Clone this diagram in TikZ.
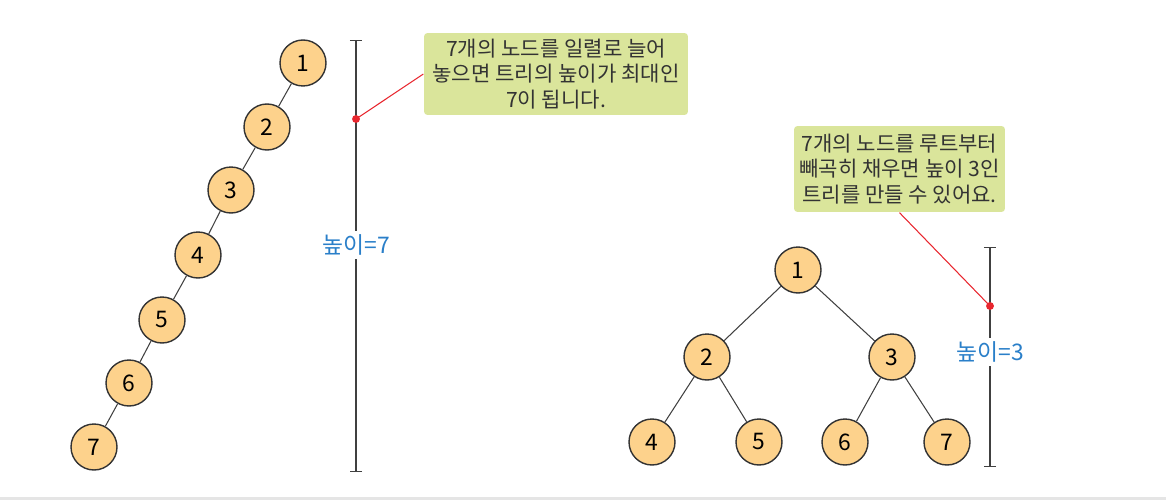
\documentclass[tikz,border=0pt]{standalone}
\usepackage{fontspec}
\setmainfont{Noto Sans CJK KR}
\usetikzlibrary{arrows.meta}
\definecolor{nodefill}{HTML}{FDD28C}
\definecolor{notefill}{HTML}{DAE59B}
\definecolor{hblue}{HTML}{2A7FC9}
\definecolor{pinred}{HTML}{E8262E}

\begin{document}
\begin{tikzpicture}[x=0.02cm, y=-0.02cm, thick,
        main/.style = {draw=black!80, fill=nodefill, circle, minimum size=0.92cm, inner sep=0pt, font=\fontsize{13}{13}\selectfont},
        note/.style = {fill=notefill, rounded corners=2pt, align=center, text=black!80, inner sep=0pt, font=\fontsize{12}{14.4}\selectfont},
        height/.style = {fill=white, text=hblue, inner sep=2pt, font=\fontsize{13}{13}\selectfont},
        bar/.style = {draw=black!75, {Bar[width=7pt]}-{Bar[width=7pt]}},
        pin/.style = {circle, fill=pinred, inner sep=0pt, minimum size=4.5pt}]
        \useasboundingbox (0,0) rectangle (1166,500);
        \draw[black!10, line width=1.2pt] (0,498.5) -- (1166,498.5);

        % tree in one line
        \node[main] (1) at (303,63) {1};
        \node[main] (2) at (267,127) {2};
        \node[main] (3) at (231,190) {3};
        \node[main] (4) at (198,255) {4};
        \node[main] (5) at (162,320) {5};
        \node[main] (6) at (129,383) {6};
        \node[main] (7) at (94,447) {7};

        \draw[semithick, black!75] (1) -- (2);
        \draw[semithick, black!75] (2) -- (3);
        \draw[semithick, black!75] (3) -- (4);
        \draw[semithick, black!75] (4) -- (5);
        \draw[semithick, black!75] (5) -- (6);
        \draw[semithick, black!75] (6) -- (7);

        \coordinate (top1) at (356,40);
        \coordinate (bot1) at (356,472);
        \draw[bar] (top1) -- (bot1);
        \node[height] (h1) at (356,245) {높이=7};
        \node[pin] (p1) at (356,119) {};
        \node[note, minimum width=5.28cm, minimum height=1.64cm] (n1) at (556,74) {7개의 노드를 일렬로 늘어\\놓으면 트리의 높이가 최대인\\7이 됩니다.};
        \draw[pinred, semithick] (p1.center) -- (n1.west);

        % full tree
        \node[main] (r1) at (798,270) {1};
        \node[main] (r2) at (707,357) {2};
        \node[main] (r3) at (892,357) {3};
        \node[main] (r4) at (652,442) {4};
        \node[main] (r5) at (759,442) {5};
        \node[main] (r6) at (845,442) {6};
        \node[main] (r7) at (947,442) {7};

        \draw[semithick, black!75] (r1) -- (r2);
        \draw[semithick, black!75] (r1) -- (r3);
        \draw[semithick, black!75] (r2) -- (r4);
        \draw[semithick, black!75] (r2) -- (r5);
        \draw[semithick, black!75] (r3) -- (r6);
        \draw[semithick, black!75] (r3) -- (r7);

        \coordinate (top2) at (990,247);
        \coordinate (bot2) at (990,467);
        \draw[bar] (top2) -- (bot2);
        \node[height] (h2) at (990,352) {높이=3};
        \node[pin] (p2) at (990,306) {};
        \node[note, minimum width=4.22cm, minimum height=1.72cm] (n2) at (899.5,169) {7개의 노드를 루트부터\\빼곡히 채우면 높이 3인\\트리를 만들 수 있어요.};
        \draw[pinred, semithick] (n2.south) -- (p2.center);

    \end{tikzpicture}
\end{document}
